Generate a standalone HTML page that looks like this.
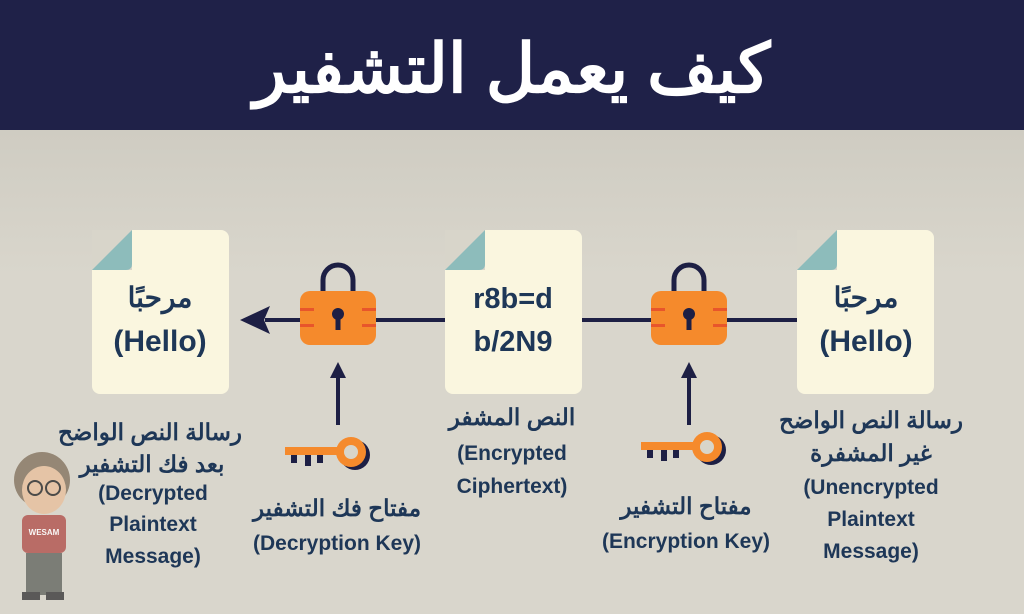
<!DOCTYPE html>
<html><head><meta charset="utf-8"><style>
html,body{margin:0;padding:0;}
body{width:1024px;height:614px;overflow:hidden;background:#d8d5ca;}
svg{display:block}
text{font-family:"Liberation Sans","Noto Sans CJK SC",sans-serif;font-weight:bold;fill:#1e3757;text-anchor:middle}
</style></head><body>
<svg width="1024" height="614" viewBox="0 0 1024 614">
<defs>
<linearGradient id="bg" x1="0" y1="0" x2="0" y2="1"><stop offset="0" stop-color="#cfccc2"/><stop offset="0.3" stop-color="#d9d6cc"/><stop offset="1" stop-color="#d9d6cc"/></linearGradient>
<g id="doc">
<rect x="0" y="0" width="137" height="164" rx="8" fill="#faf6df"/>
<path d="M0 0 L40 0 L40 40 L0 40 Z" fill="#d8d5ca"/>
<path d="M0 40 L40 0 L40 34 Q40 40 34 40 Z" fill="#8dbcbb"/>
</g>
<g id="lock">
<path d="M-15 -25 L-15 -38 A15 15 0 0 1 15 -38 L15 -25" fill="none" stroke="#1d1f44" stroke-width="5"/>
<rect x="-38" y="-27" width="76" height="54" rx="10" fill="#f58a2c"/>
<rect x="-38" y="-10" width="14" height="3" fill="#e8552b"/><rect x="-38" y="6" width="14" height="3" fill="#e8552b"/>
<rect x="24" y="-10" width="14" height="3" fill="#e8552b"/><rect x="24" y="6" width="14" height="3" fill="#e8552b"/>
<circle cx="0" cy="-4" r="6" fill="#1d1f44"/><rect x="-2.5" y="-2" width="5" height="14" fill="#1d1f44"/>
</g>
<g id="key">
<circle cx="70" cy="18" r="15" fill="#1d1f44"/>
<circle cx="66" cy="15" r="15" fill="#f58a2c"/>
<circle cx="66" cy="15" r="7" fill="#d8d5ca"/>
<rect x="0" y="10" width="54" height="8" fill="#f58a2c"/>
<rect x="6" y="18" width="6" height="8" fill="#1d1f44"/><rect x="20" y="18" width="6" height="11" fill="#1d1f44"/><rect x="32" y="18" width="6" height="8" fill="#1d1f44"/>
</g>
</defs>
<rect x="0" y="130" width="1024" height="484" fill="url(#bg)"/>
<rect x="0" y="0" width="1024" height="130" fill="#1f2148"/>
<text x="512" y="92" style="fill:#fff;font-size:68px">كيف يعمل التشفير</text>

<line x1="265" y1="320" x2="797" y2="320" stroke="#1d1f44" stroke-width="4"/>
<polygon points="240,320 270,306 264,320 270,334" fill="#1d1f44"/>

<use href="#doc" x="92" y="230"/>
<use href="#doc" x="445" y="230"/>
<use href="#doc" x="797" y="230"/>
<use href="#lock" x="338" y="318"/>
<use href="#lock" x="689" y="318"/>

<line x1="338" y1="425" x2="338" y2="375" stroke="#1d1f44" stroke-width="4"/>
<polygon points="338,362 330,378 346,378" fill="#1d1f44"/>
<line x1="689" y1="425" x2="689" y2="375" stroke="#1d1f44" stroke-width="4"/>
<polygon points="689,362 681,378 697,378" fill="#1d1f44"/>
<use href="#key" x="285" y="437"/>
<use href="#key" x="641" y="432"/>

<text x="160" y="307" style="font-size:28px">مرحبًا</text>
<text x="160" y="351" style="font-size:30px">(Hello)</text>
<text x="513" y="308" style="font-size:29px">r8b=d</text>
<text x="513" y="351" style="font-size:29px">b/2N9</text>
<text x="866" y="307" style="font-size:28px">مرحبًا</text>
<text x="866" y="351" style="font-size:30px">(Hello)</text>

<g style="font-size:21px">
<text x="150" y="440" style="font-size:23px">رسالة النص الواضح</text>
<text x="152" y="472" style="font-size:23px">بعد فك التشفير</text>
<text x="153" y="500">(Decrypted</text>
<text x="153" y="531">Plaintext</text>
<text x="153" y="563">Message)</text>

<text x="337" y="516" style="font-size:23px">مفتاح فك التشفير</text>
<text x="337" y="550">(Decryption Key)</text>

<text x="512" y="425" style="font-size:23px">النص المشفر</text>
<text x="512" y="460">(Encrypted</text>
<text x="512" y="493">Ciphertext)</text>

<text x="686" y="514" style="font-size:23px">مفتاح التشفير</text>
<text x="686" y="548">(Encryption Key)</text>

<text x="871" y="428" style="font-size:23px">رسالة النص الواضح</text>
<text x="871" y="461" style="font-size:23px">غير المشفرة</text>
<text x="871" y="494">(Unencrypted</text>
<text x="871" y="526">Plaintext</text>
<text x="871" y="558">Message)</text>
</g>

<g opacity="0.85">
<circle cx="42" cy="480" r="28" fill="#8a7a66"/>
<ellipse cx="44" cy="490" rx="22" ry="24" fill="#e8c2a0"/>
<circle cx="35" cy="488" r="7" fill="none" stroke="#333" stroke-width="2"/>
<circle cx="53" cy="488" r="7" fill="none" stroke="#333" stroke-width="2"/>
<rect x="22" y="515" width="44" height="38" rx="6" fill="#b45a55"/>
<text x="44" y="535" style="font-size:8px;fill:#fff">WESAM</text>
<rect x="26" y="553" width="36" height="42" fill="#6b6e68"/>
<rect x="22" y="592" width="18" height="8" fill="#444"/><rect x="46" y="592" width="18" height="8" fill="#444"/>
</g>
</svg>
</body></html>
